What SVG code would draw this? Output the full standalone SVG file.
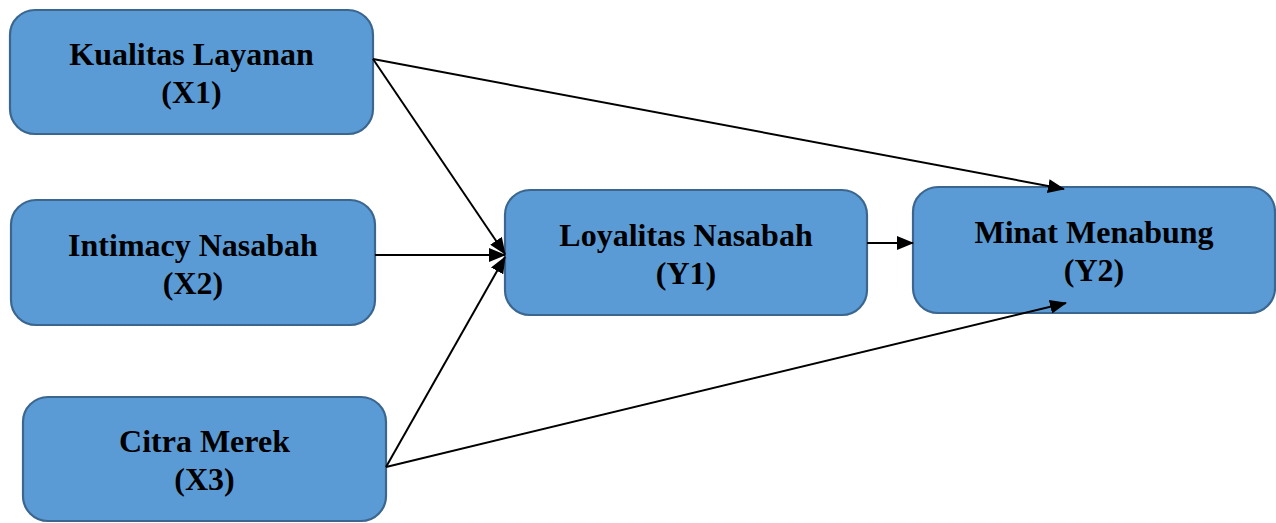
<svg xmlns="http://www.w3.org/2000/svg" width="1276" height="523" viewBox="0 0 1276 523">
<style>
.node rect{fill:#5B9BD5;stroke:#3A6690;stroke-width:2.2}
.node text{font-family:"Liberation Serif","Times New Roman",serif;font-weight:bold;font-size:32px;fill:#000;text-anchor:middle}
.conn line{stroke:#000;stroke-width:2;marker-end:url(#ah)}
</style>
<defs>
<marker id="ah" markerUnits="userSpaceOnUse" markerWidth="18" markerHeight="14" refX="16" refY="7" orient="auto">
<path d="M0,0 L17,7 L0,14 Z" fill="#000"/>
</marker>
</defs>
<rect width="1276" height="523" fill="#fff"/>
<g id="x1" class="node">
<rect x="10" y="10" width="363" height="124" rx="25"/>
<text x="191.5" y="65">Kualitas Layanan</text>
<text x="191.5" y="103">(X1)</text>
</g>
<g id="x2" class="node">
<rect x="11" y="200" width="364" height="125" rx="25"/>
<text x="193" y="256">Intimacy Nasabah</text>
<text x="193" y="294">(X2)</text>
</g>
<g id="x3" class="node">
<rect x="23" y="397" width="363" height="124" rx="25"/>
<text x="204.5" y="452">Citra Merek</text>
<text x="204.5" y="490">(X3)</text>
</g>
<g id="y1" class="node">
<rect x="505" y="190" width="362" height="125" rx="25"/>
<text x="686" y="246">Loyalitas Nasabah</text>
<text x="686" y="284">(Y1)</text>
</g>
<g id="y2" class="node">
<rect x="913" y="187" width="362" height="126" rx="25"/>
<text x="1094" y="243">Minat Menabung</text>
<text x="1094" y="281">(Y2)</text>
</g>
<g id="connectors" class="conn">
<line x1="373" y1="59" x2="1064" y2="189"/>
<line x1="373" y1="59" x2="505" y2="254"/>
<line x1="375" y1="255" x2="505" y2="255"/>
<line x1="386" y1="467" x2="505" y2="257"/>
<line x1="386" y1="467" x2="1066" y2="303"/>
<line x1="867" y1="243" x2="913" y2="243"/>
</g>
</svg>
